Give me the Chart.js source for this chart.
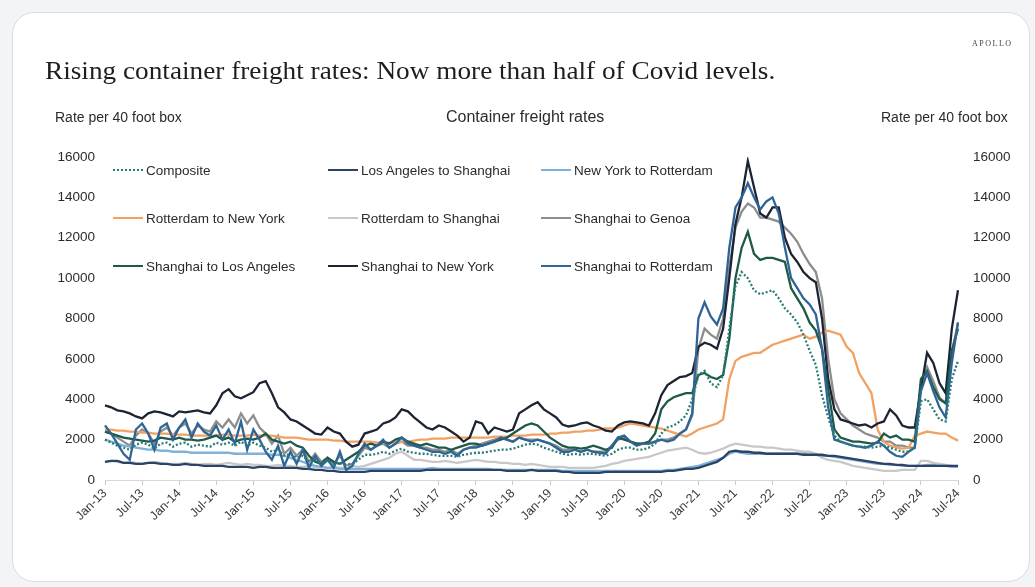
<!DOCTYPE html>
<html>
<head>
<meta charset="utf-8">
<script src="https://cdn.jsdelivr.net/npm/chart.js@4.4.1/dist/chart.umd.min.js"></script>
<style>
    body { margin: 0; width: 1035px; height: 587px; overflow: hidden; background: #f3f4f6; font-family: "Liberation Sans", Arial, sans-serif; }
    #card { position: absolute; left: 12px; top: 12px; width: 1018px; height: 570px; box-sizing: border-box; background: #fff; border: 1px solid #d8dde3; border-radius: 22px; }
    #chart { position: absolute; left: 0; top: 0; }
    .txt { position: absolute; white-space: nowrap; color: #2b2b2b; }
    .title { left: 45px; top: 57px; font-family: "Liberation Serif", "DejaVu Serif", serif; font-size: 25px; color: #1e1e1e; transform: scaleX(1.09); transform-origin: left top; }
    .brand { left: 972px; top: 39px; font-family: "Liberation Serif", serif; font-size: 8px; letter-spacing: 1.5px; color: #444; }
    .axis-title { top: 109px; font-size: 14px; }
    .legend-item { position: absolute; font-size: 13.5px; color: #2b2b2b; white-space: nowrap; line-height: 16px; }
    .legend-item span { display: inline-block; width: 30px; height: 0; border-top: 2px solid; vertical-align: middle; margin-right: 3px; position: relative; top: -1px; }
</style>
</head>
<body>
<div id="card"></div>
<canvas id="chart" width="1035" height="587"></canvas>
<div class="txt title">Rising container freight rates: Now more than half of Covid levels.</div>
<div class="txt brand">APOLLO</div>
<div class="txt axis-title" style="left:55px;">Rate per 40 foot box</div>
<div class="txt axis-title" style="left:446px; font-size:16px; top:108px;">Container freight rates</div>
<div class="txt axis-title" style="left:881px;">Rate per 40 foot box</div>
<div id="legend"></div>
<script>
// Container freight rates, monthly, Jan-13 .. Jul-24
const tickLabels = ['Jan-13', 'Jul-13', 'Jan-14', 'Jul-14', 'Jan-15', 'Jul-15', 'Jan-16', 'Jul-16',
    'Jan-17', 'Jul-17', 'Jan-18', 'Jul-18', 'Jan-19', 'Jul-19', 'Jan-20', 'Jul-20',
    'Jan-21', 'Jul-21', 'Jan-22', 'Jul-22', 'Jan-23', 'Jul-23', 'Jan-24', 'Jul-24'];
const monthNames = ['Jan', 'Feb', 'Mar', 'Apr', 'May', 'Jun', 'Jul', 'Aug', 'Sep', 'Oct', 'Nov', 'Dec'];
const firstYear = 2013;
const monthCount = 139;

const composite = [
    2000,1850,1700,1600,1500,1750,1850,1750,1550,1800,1850,1650,
    1800,1850,1650,1750,1700,1650,1850,1750,1850,1700,1900,1700,
    1850,1700,1600,1400,1500,1200,1300,1100,1200,900,1000,850,
    950,800,850,750,800,1000,1250,1250,1300,1400,1300,1450,
    1550,1400,1350,1300,1300,1250,1200,1200,1200,1150,1250,1300,
    1350,1350,1400,1450,1500,1500,1550,1650,1750,1800,1750,1600,
    1500,1400,1300,1250,1300,1250,1300,1300,1250,1200,1300,1500,
    1600,1600,1500,1500,1600,1800,2300,2600,2700,2900,3200,4000,
    5200,5400,4800,4600,5200,7500,9600,10300,10000,9400,9200,9300,
    9400,9000,8500,8200,7800,7200,6400,5700,4200,3100,2200,1900,
    1800,1700,1650,1650,1600,1650,1700,1600,1500,1400,1400,1600,
    3900,4000,3500,3000,2900,5000,5900
];
const laShanghai = [
    900,950,950,850,850,800,800,850,850,800,800,750,
    750,800,750,750,700,700,700,700,650,650,650,650,
    600,650,650,600,600,600,600,600,550,550,500,500,
    450,450,400,400,400,400,400,450,450,450,450,450,
    450,450,450,450,500,500,500,500,500,500,500,500,
    500,500,500,500,500,450,450,450,450,500,450,450,
    450,450,400,400,350,350,350,350,350,400,400,400,
    400,400,400,400,400,400,400,450,450,500,550,550,
    600,700,800,900,1100,1400,1450,1400,1400,1350,1350,1300,
    1300,1300,1300,1300,1300,1250,1250,1250,1250,1200,1200,1150,
    1100,1050,1000,950,900,850,800,800,750,750,700,700,
    700,700,700,700,700,700,700
];
const nyRotterdam = [
    2000,1900,1800,1700,1650,1600,1550,1500,1500,1450,1450,1400,
    1400,1400,1350,1350,1350,1350,1350,1350,1350,1300,1300,1300,
    1300,1300,1300,1250,1250,1200,1100,1000,900,800,700,650,
    600,600,550,550,550,550,550,550,550,550,550,550,
    550,550,550,550,550,600,550,550,550,550,550,550,
    550,550,550,500,500,500,500,500,500,500,500,500,
    500,500,450,450,450,450,450,450,450,450,450,450,
    450,450,450,450,450,450,450,500,500,550,600,650,
    700,800,900,1000,1100,1300,1400,1350,1300,1300,1300,1300,
    1300,1300,1300,1300,1300,1300,1250,1250,1200,1200,1150,1100,
    1050,1000,950,900,850,800,800,750,750,700,700,700,
    700,750,750,700,700,650,650
];
const rotterdamNewYork = [
    2500,2500,2450,2450,2400,2400,2350,2350,2300,2300,2300,2250,
    2250,2250,2200,2200,2200,2200,2200,2250,2250,2200,2200,2200,
    2250,2200,2200,2200,2150,2100,2100,2100,2050,2000,2000,2000,
    2000,1950,1950,1900,1900,1900,1900,1900,1850,1850,1850,1850,
    1900,1900,1950,2000,2000,2050,2050,2050,2100,2100,2100,2100,
    2100,2100,2100,2150,2150,2150,2200,2200,2200,2250,2250,2250,
    2300,2300,2350,2350,2400,2400,2450,2450,2500,2550,2550,2600,
    2700,2800,2750,2700,2650,2600,2550,2450,2350,2250,2150,2300,
    2500,2600,2700,2800,3000,5000,5900,6100,6200,6300,6300,6500,
    6700,6800,6900,7000,7100,7200,7000,7100,7300,7400,7300,7200,
    6600,6300,5300,4800,4300,2500,1900,1700,1600,1550,1600,2200,
    2300,2400,2350,2300,2300,2100,1950
];
const rotterdamShanghai = [
    900,950,900,850,900,850,800,850,900,850,800,800,
    800,850,800,750,800,800,750,800,850,800,750,800,
    750,750,700,700,750,700,700,650,650,700,650,650,
    600,650,600,650,700,650,700,800,900,1000,1100,1300,
    1400,1200,1000,1000,950,900,900,950,900,850,900,950,
    1000,950,900,900,850,850,800,800,750,800,750,700,
    650,650,650,600,600,600,600,600,650,700,800,850,
    950,1000,1050,1100,1150,1250,1350,1450,1500,1550,1600,1500,
    1350,1300,1350,1450,1550,1700,1800,1750,1700,1650,1650,1600,
    1600,1550,1500,1500,1450,1400,1400,1300,1100,1000,950,900,
    800,700,650,600,550,500,450,450,450,500,500,500,
    950,950,850,800,750,700,650
];
const shanghaiGenoa = [
    2400,2300,2100,1900,1700,2200,2500,2300,1800,2400,2600,2200,
    2600,2800,2300,2700,2500,2400,2900,2600,3000,2600,3300,2800,
    3200,2600,2300,1800,2200,1300,1600,1200,1500,900,1300,900,
    1100,800,1200,700,800,1200,1600,1500,1700,1800,1600,1800,
    1900,1700,1700,1600,1600,1500,1500,1400,1500,1300,1500,1600,
    1700,1800,1900,2000,2100,2000,1900,2100,2000,2000,2000,1900,
    1800,1700,1500,1500,1500,1400,1500,1400,1400,1400,1700,2000,
    2100,1900,1800,1800,1800,1900,2000,2000,2100,2300,2500,3200,
    6500,7500,7200,7000,8000,10500,12500,13300,13700,13500,13000,13000,
    12900,12800,12500,12200,11800,11200,10700,10300,9000,6000,4000,3300,
    3000,2700,2500,2300,2200,2100,1900,1900,1700,1700,1600,1600,
    4800,5600,4900,4100,3800,6300,7800
];
const shanghaiLosAngeles = [
    2400,2300,2200,2100,2050,2000,1950,1900,1950,2100,2050,2000,
    2100,2000,2000,1950,2000,2100,2200,2000,2100,1900,2000,2050,
    2000,2100,2300,2000,1900,1800,1900,1700,1600,1200,900,800,
    1100,900,800,1000,1200,1400,1700,1800,1700,1900,1800,2000,
    2100,1900,1800,1700,1800,1700,1600,1600,1500,1600,1700,1800,
    1800,1700,1800,1900,2000,2100,2300,2500,2700,2800,2700,2400,
    2100,1900,1700,1600,1600,1550,1600,1700,1600,1500,1600,2100,
    2000,1900,1800,1800,1900,2300,3500,3900,4100,4200,4300,4300,
    5200,5300,5100,5000,5200,7000,10000,11500,12300,11200,10900,11000,
    11000,10900,10800,9500,9000,8500,7800,7400,6500,4500,2500,2100,
    2000,1900,1900,1850,1800,1850,2300,2100,2200,2000,2000,1900,
    5000,5400,4600,4000,3800,6400,7500
];
const shanghaiNewYork = [
    3700,3600,3450,3400,3300,3150,3050,3300,3400,3350,3250,3150,
    3400,3350,3400,3450,3350,3300,3700,4300,4500,4150,4050,4200,
    4350,4800,4900,4300,3600,3350,3000,2900,2700,2500,2300,2250,
    2600,2400,2300,1900,1650,1750,2300,2400,2500,2800,2900,3100,
    3500,3400,3100,2850,2600,2500,2700,2600,2400,2200,1900,2100,
    2900,2800,2300,2600,2500,2400,2500,3300,3500,3700,3850,3500,
    3300,3100,2750,2650,2700,2800,2850,2700,2600,2450,2400,2700,
    2850,2900,2850,2800,2700,3300,4200,4700,4900,5100,5150,5300,
    6600,6800,6700,6500,7500,10000,12700,14000,15800,14500,13200,13000,
    13500,13500,12000,11200,10800,10300,10000,9800,8000,5000,3500,3000,
    2900,2800,2700,2750,2600,2800,2900,3500,3200,2700,2600,2600,
    4500,6300,5800,4800,4300,7500,9400
];
const shanghaiRotterdam = [
    2700,2300,1800,1300,1000,2500,2800,2300,1500,2600,2800,2000,
    2600,3000,2100,2800,2400,2200,2700,2000,2500,1800,2900,1500,
    2500,2000,1400,1000,1700,700,1400,800,1500,600,1200,700,
    1000,600,1400,500,700,1300,1800,1500,1700,2000,1600,1800,
    2100,1800,1700,1600,1500,1400,1400,1300,1400,1200,1500,1600,
    1600,1700,1800,1900,2100,2000,1900,2100,2000,1900,2000,1900,
    1800,1600,1400,1400,1500,1400,1500,1400,1350,1300,1700,2100,
    2200,1900,1700,1800,1800,1900,2000,1900,2000,2300,2500,3300,
    8000,8800,8100,7700,8500,11500,13500,14000,14700,14000,13400,13800,
    14000,13200,11500,10000,9500,9000,8700,8200,6500,3600,2000,1900,
    1800,1700,1650,1600,1700,1900,1700,1400,1200,1150,1400,1600,
    4400,5300,4400,3600,3100,5800,7800
];

const yTicks = [0, 2000, 4000, 6000, 8000, 10000, 12000, 14000, 16000];

// monthly category labels
const labels = [];
for (let i = 0; i < monthCount; i++) {
    const yr = String((firstYear + Math.floor(i / 12)) % 100).padStart(2, '0');
    labels.push(monthNames[i % 12] + '-' + yr);
}

const series = [
    { label: 'Composite', data: composite, color: '#2a7c76', dash: [2, 2], order: 0 },
    { label: 'Los Angeles to Shanghai', data: laShanghai, color: '#2d4365', order: 5 },
    { label: 'New York to Rotterdam', data: nyRotterdam, color: '#7fb1d9', order: 6 },
    { label: 'Rotterdam to New York', data: rotterdamNewYork, color: '#f1a262', order: 4 },
    { label: 'Rotterdam to Shanghai', data: rotterdamShanghai, color: '#c8c8c8', order: 7 },
    { label: 'Shanghai to Genoa', data: shanghaiGenoa, color: '#8d8d8d', order: 8 },
    { label: 'Shanghai to Los Angeles', data: shanghaiLosAngeles, color: '#1d5b48', order: 2 },
    { label: 'Shanghai to New York', data: shanghaiNewYork, color: '#1c2433', order: 3 },
    { label: 'Shanghai to Rotterdam', data: shanghaiRotterdam, color: '#2f6497', order: 1 }
];

// legend, 3 columns x 3 rows inside the plot
const legendCols = [113, 328, 541];
const legendRows = [163, 211, 259];
const legendBox = document.getElementById('legend');
series.forEach(function(s, i) {
    const item = document.createElement('div');
    item.className = 'legend-item';
    item.style.left = legendCols[i % 3] + 'px';
    item.style.top = legendRows[Math.floor(i / 3)] + 'px';
    const line = document.createElement('span');
    line.style.borderTopColor = s.color;
    if (s.dash) line.style.borderTopStyle = 'dotted';
    item.appendChild(line);
    item.appendChild(document.createTextNode(s.label));
    legendBox.appendChild(item);
});

Chart.defaults.font.family = '"Liberation Sans", Arial, sans-serif';

const ctx = document.getElementById('chart').getContext('2d');
new Chart(ctx, {
    type: 'line',
    data: {
        labels: labels,
        datasets: series.map(function(s) {
            return {
                label: s.label,
                data: s.data,
                borderColor: s.color,
                borderWidth: 2.3,
                borderDash: s.dash || [],
                pointRadius: 0,
                tension: 0,
                fill: false,
                order: s.order,
                yAxisID: 'y'
            };
        })
    },
    options: {
        responsive: false,
        animation: false,
        layout: { padding: { top: 157, left: 0, right: 0, bottom: 0 } },
        plugins: {
            legend: { display: false },
            tooltip: { enabled: false }
        },
        scales: {
            x: {
                afterFit: function(scale) { scale.height = 107; },
                grid: {
                    drawOnChartArea: false,
                    drawTicks: true,
                    tickLength: 5,
                    color: function(c) { return c.index % 6 === 0 ? '#c9c9c9' : 'rgba(0,0,0,0)'; }
                },
                border: { display: true, color: '#d6d6d6' },
                ticks: {
                    autoSkip: false,
                    minRotation: 45,
                    maxRotation: 45,
                    padding: 1,
                    color: '#3a3a3a',
                    font: { size: 12.5 },
                    callback: function(v, i) { return i % 6 === 0 ? tickLabels[i / 6] : ''; }
                }
            },
            y: {
                position: 'left',
                min: 0,
                max: 16000,
                afterFit: function(scale) { scale.width = 105; },
                afterBuildTicks: function(scale) { scale.ticks = yTicks.map(function(v) { return { value: v }; }); },
                grid: { display: false, drawTicks: false },
                border: { display: false },
                ticks: { padding: 10, color: '#2b2b2b', font: { size: 13.5 }, callback: function(v) { return String(v); } }
            },
            y2: {
                position: 'right',
                min: 0,
                max: 16000,
                afterFit: function(scale) { scale.width = 77; },
                afterBuildTicks: function(scale) { scale.ticks = yTicks.map(function(v) { return { value: v }; }); },
                grid: { display: false, drawTicks: false },
                border: { display: false },
                ticks: { padding: 15, color: '#2b2b2b', font: { size: 13.5 }, callback: function(v) { return String(v); } }
            }
        }
    }
});
</script>
</body>
</html>
